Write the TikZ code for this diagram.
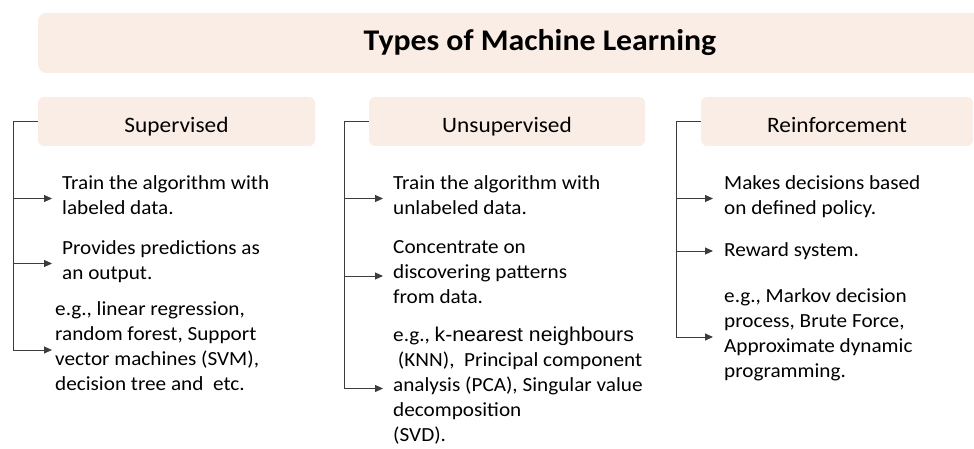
\documentclass[tikz,border=0pt]{standalone}
\usepackage{fontspec}
\setmainfont{Carlito}[FakeStretch=1.06]
\newfontfamily\arialfont{Liberation Sans}[FakeStretch=1.06]
\usepackage{xcolor}
\usetikzlibrary{arrows.meta,positioning,calc}
\definecolor{boxfill}{RGB}{250,237,229}
\definecolor{linegray}{RGB}{60,60,60}

\begin{document}
\begin{tikzpicture}[x=1pt, y=-1pt, >={Triangle[length=8pt,width=7pt]},
  headbox/.style={fill=boxfill, rounded corners=6pt, minimum width=277pt, minimum height=49pt, inner sep=0pt, text height=23pt, text depth=0pt, font=\fontsize{22}{26}\selectfont},
  item/.style={anchor=west, align=left, inner sep=0pt, font=\fontsize{20}{25}\selectfont, execute at begin node=\strut, execute at end node=\strut},
  spine/.style={draw=linegray, line width=1pt}]
\useasboundingbox (0,0) rectangle (974,449);
\clip (0,0) rectangle (974,449);
% title bar
\node[fill=boxfill, rounded corners=8pt, minimum width=1004pt, minimum height=60pt, font=\fontsize{30}{36}\selectfont\bfseries] (title) at (540,43) {Types of Machine Learning};
% column heads
\node[headbox] (sup) at (176.5,121.5) {Supervised};
\node[headbox, minimum width=276pt] (unsup) at (507,121.5) {Unsupervised};
\node[headbox, minimum width=272pt] (reinf) at (837,121.5) {Reinforcement};
% supervised
\node[item] (s1) at (62,198.5) {Train the algorithm with\\labeled data.};
\node[item] (s2) at (62,263.5) {Provides predictions as\\an output.};
\node[item] (s3) at (55,350) {e.g., linear regression,\\random forest, Support\\vector machines (SVM),\\decision tree and\ \ etc.};
% unsupervised
\node[item] (u1) at (393,198.5) {Train the algorithm with\\unlabeled data.};
\node[item] (u2) at (393,276) {Concentrate on\\discovering patterns\\from data.};
\node[item] (u3) at (393,388.5) {e.g., {\arialfont\fontsize{20}{25}\selectfont k-nearest neighbours}\\\ (KNN),\ \ Principal component\\analysis (PCA), Singular value\\decomposition\\(SVD).};
% reinforcement
\node[item] (r1) at (724,198.5) {Makes decisions based\\on defined policy.};
\node[item] (r2) at (724,251) {Reward system.};
\node[item] (r3) at (724,337) {e.g., Markov decision\\process, Brute Force,\\Approximate dynamic\\programming.};
% brackets
\draw[spine,->] (sup.west) -- ++(-24,0) coordinate (supc) |- ([xshift=-3pt]s3.west);
\draw[spine,->] (supc |- s1.west) -- ([xshift=-10pt]s1.west);
\draw[spine,->] (supc |- s2.west) -- ([xshift=-10pt]s2.west);
\draw[spine,->] (unsup.west) -- ++(-24,0) coordinate (unsupc) |- ([xshift=-10pt]u3.west);
\draw[spine,->] (unsupc |- u1.west) -- ([xshift=-10pt]u1.west);
\draw[spine,->] (unsupc |- u2.west) -- ([xshift=-10pt]u2.west);
\draw[spine,->] (reinf.west) -- ++(-24,0) coordinate (reinfc) |- ([xshift=-11pt]r3.west);
\draw[spine,->] (reinfc |- r1.west) -- ([xshift=-11pt]r1.west);
\draw[spine,->] (reinfc |- r2.west) -- ([xshift=-11pt]r2.west);
\end{tikzpicture}
\end{document}
